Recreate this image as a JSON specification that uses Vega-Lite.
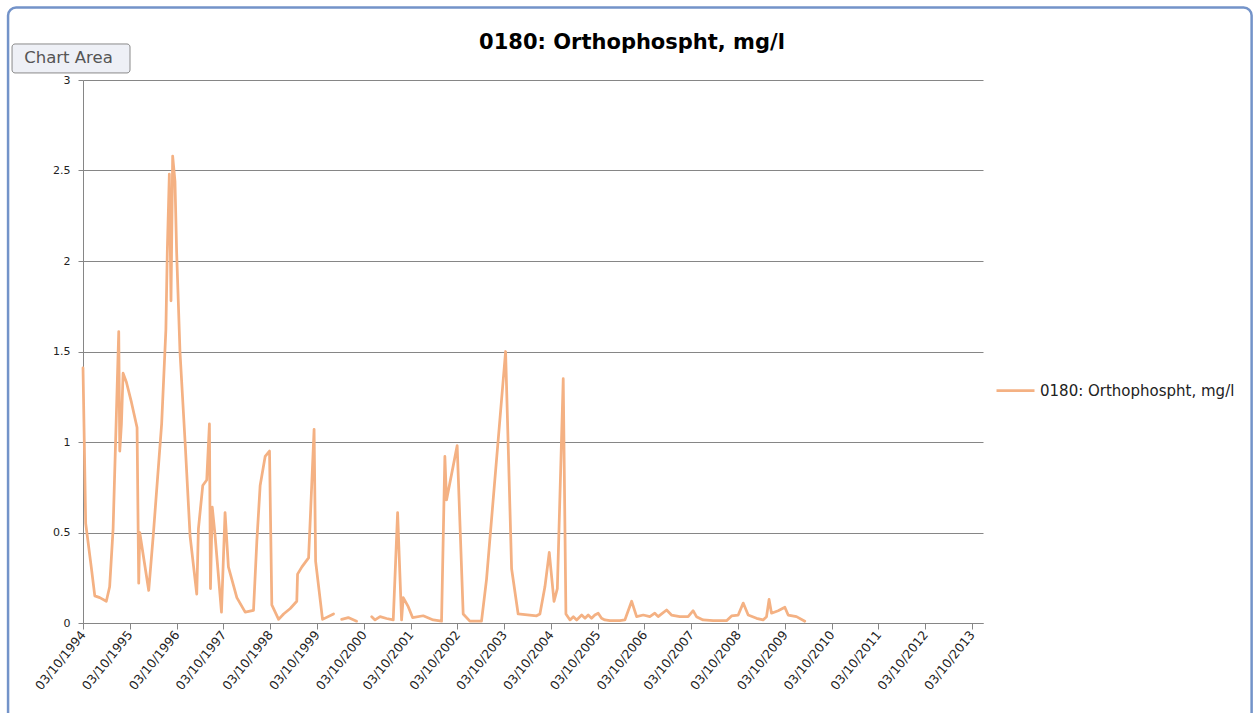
{
  "$schema": "https://vega.github.io/schema/vega-lite/v6.json",
  "width": 900,
  "height": 543,
  "autosize": {"type": "none"},
  "padding": {"left": 83, "top": 80, "right": 274, "bottom": 90},
  "background": "white",
  "title": {
    "text": "0180: Orthophospht, mg/l",
    "font": "DejaVu Sans",
    "fontSize": 21,
    "fontWeight": "bold",
    "color": "#000000",
    "anchor": "middle",
    "frame": "group",
    "dx": 99,
    "dy": 47,
    "offset": 0
  },
  "config": {
    "view": {"stroke": null},
    "axis": {
      "domainColor": "#868686",
      "tickColor": "#868686",
      "gridColor": "#868686",
      "gridWidth": 1,
      "labelColor": "#222222",
      "labelFont": "DejaVu Sans",
      "title": null
    },
    "axisX": {
      "grid": false,
      "tickSize": 6,
      "labelAngle": -51,
      "labelAlign": "right",
      "labelBaseline": "middle",
      "labelFontSize": 12.5,
      "labelPadding": 3,
      "labelOverlap": false,
      "labelFlush": false,
      "labelBound": false,
      "labelExpr": "utcFormat(datum.value, '%d/%m/%Y')"
    },
    "axisY": {
      "grid": true,
      "tickSize": 5,
      "labelFontSize": 11,
      "labelPadding": 8,
      "labelOverlap": false,
      "labelFlush": false
    },
    "legend": {
      "orient": "none",
      "legendX": 912,
      "legendY": 290,
      "symbolType": "stroke",
      "symbolSize": 1444,
      "symbolStrokeWidth": 2.75,
      "labelFont": "DejaVu Sans",
      "labelFontSize": 15,
      "labelColor": "#222222",
      "labelLimit": 400,
      "title": null
    }
  },
  "layer": [
    {
      "data": {
        "values": [
          {"date": "1994-10-03", "value": 1.41, "seg": 1},
          {"date": "1994-10-24", "value": 0.55, "seg": 1},
          {"date": "1994-12-08", "value": 0.30, "seg": 1},
          {"date": "1995-01-03", "value": 0.15, "seg": 1},
          {"date": "1995-02-11", "value": 0.14, "seg": 1},
          {"date": "1995-04-03", "value": 0.12, "seg": 1},
          {"date": "1995-04-29", "value": 0.20, "seg": 1},
          {"date": "1995-05-26", "value": 0.52, "seg": 1},
          {"date": "1995-07-09", "value": 1.61, "seg": 1},
          {"date": "1995-07-17", "value": 0.95, "seg": 1},
          {"date": "1995-07-30", "value": 1.10, "seg": 1},
          {"date": "1995-08-12", "value": 1.38, "seg": 1},
          {"date": "1995-09-07", "value": 1.33, "seg": 1},
          {"date": "1995-10-16", "value": 1.22, "seg": 1},
          {"date": "1995-11-29", "value": 1.08, "seg": 1},
          {"date": "1995-12-12", "value": 0.22, "seg": 1},
          {"date": "1995-12-20", "value": 0.50, "seg": 1},
          {"date": "1996-02-28", "value": 0.18, "seg": 1},
          {"date": "1996-04-03", "value": 0.48, "seg": 1},
          {"date": "1996-06-08", "value": 1.10, "seg": 1},
          {"date": "1996-07-11", "value": 1.62, "seg": 1},
          {"date": "1996-07-22", "value": 2.05, "seg": 1},
          {"date": "1996-08-07", "value": 2.48, "seg": 1},
          {"date": "1996-08-20", "value": 1.78, "seg": 1},
          {"date": "1996-09-02", "value": 2.58, "seg": 1},
          {"date": "1996-09-20", "value": 2.44, "seg": 1},
          {"date": "1996-10-03", "value": 2.05, "seg": 1},
          {"date": "1996-10-29", "value": 1.50, "seg": 1},
          {"date": "1996-12-08", "value": 1.00, "seg": 1},
          {"date": "1997-01-16", "value": 0.48, "seg": 1},
          {"date": "1997-03-09", "value": 0.16, "seg": 1},
          {"date": "1997-03-22", "value": 0.52, "seg": 1},
          {"date": "1997-04-25", "value": 0.76, "seg": 1},
          {"date": "1997-05-26", "value": 0.79, "seg": 1},
          {"date": "1997-06-16", "value": 1.10, "seg": 1},
          {"date": "1997-06-24", "value": 0.19, "seg": 1},
          {"date": "1997-07-08", "value": 0.64, "seg": 1},
          {"date": "1997-07-28", "value": 0.50, "seg": 1},
          {"date": "1997-09-18", "value": 0.06, "seg": 1},
          {"date": "1997-10-16", "value": 0.61, "seg": 1},
          {"date": "1997-11-11", "value": 0.31, "seg": 1},
          {"date": "1998-01-16", "value": 0.14, "seg": 1},
          {"date": "1998-03-22", "value": 0.06, "seg": 1},
          {"date": "1998-05-26", "value": 0.07, "seg": 1},
          {"date": "1998-06-21", "value": 0.45, "seg": 1},
          {"date": "1998-07-17", "value": 0.76, "seg": 1},
          {"date": "1998-08-25", "value": 0.92, "seg": 1},
          {"date": "1998-09-28", "value": 0.95, "seg": 1},
          {"date": "1998-10-16", "value": 0.10, "seg": 1},
          {"date": "1998-12-08", "value": 0.02, "seg": 1},
          {"date": "1999-01-16", "value": 0.05, "seg": 1},
          {"date": "1999-03-09", "value": 0.08, "seg": 1},
          {"date": "1999-04-29", "value": 0.12, "seg": 1},
          {"date": "1999-05-05", "value": 0.27, "seg": 1},
          {"date": "1999-06-08", "value": 0.31, "seg": 1},
          {"date": "1999-07-30", "value": 0.36, "seg": 1},
          {"date": "1999-08-09", "value": 0.52, "seg": 1},
          {"date": "1999-09-11", "value": 1.07, "seg": 1},
          {"date": "1999-09-23", "value": 0.34, "seg": 1},
          {"date": "1999-11-16", "value": 0.02, "seg": 1},
          {"date": "2000-02-10", "value": 0.05, "seg": 1},
          {"date": "2000-04-13", "value": 0.02, "seg": 2},
          {"date": "2000-06-04", "value": 0.03, "seg": 2},
          {"date": "2000-08-08", "value": 0.01, "seg": 2},
          {"date": "2000-12-04", "value": 0.035, "seg": 3},
          {"date": "2000-12-30", "value": 0.017, "seg": 3},
          {"date": "2001-02-07", "value": 0.035, "seg": 3},
          {"date": "2001-03-30", "value": 0.025, "seg": 3},
          {"date": "2001-05-21", "value": 0.017, "seg": 3},
          {"date": "2001-06-24", "value": 0.61, "seg": 3},
          {"date": "2001-07-25", "value": 0.017, "seg": 3},
          {"date": "2001-08-07", "value": 0.14, "seg": 3},
          {"date": "2001-09-15", "value": 0.09, "seg": 3},
          {"date": "2001-10-19", "value": 0.03, "seg": 3},
          {"date": "2002-01-10", "value": 0.04, "seg": 3},
          {"date": "2002-03-29", "value": 0.017, "seg": 3},
          {"date": "2002-06-02", "value": 0.01, "seg": 3},
          {"date": "2002-06-28", "value": 0.92, "seg": 3},
          {"date": "2002-07-11", "value": 0.68, "seg": 3},
          {"date": "2002-10-02", "value": 0.98, "seg": 3},
          {"date": "2002-11-18", "value": 0.05, "seg": 3},
          {"date": "2003-01-09", "value": 0.01, "seg": 3},
          {"date": "2003-04-10", "value": 0.01, "seg": 3},
          {"date": "2003-05-19", "value": 0.24, "seg": 3},
          {"date": "2003-10-15", "value": 1.50, "seg": 3},
          {"date": "2003-12-01", "value": 0.30, "seg": 3},
          {"date": "2004-01-21", "value": 0.05, "seg": 3},
          {"date": "2004-06-13", "value": 0.04, "seg": 3},
          {"date": "2004-07-09", "value": 0.05, "seg": 3},
          {"date": "2004-08-17", "value": 0.20, "seg": 3},
          {"date": "2004-09-20", "value": 0.39, "seg": 3},
          {"date": "2004-10-27", "value": 0.12, "seg": 3},
          {"date": "2004-11-22", "value": 0.19, "seg": 3},
          {"date": "2005-01-07", "value": 1.35, "seg": 3},
          {"date": "2005-01-28", "value": 0.05, "seg": 3},
          {"date": "2005-03-01", "value": 0.017, "seg": 3},
          {"date": "2005-03-27", "value": 0.035, "seg": 3},
          {"date": "2005-04-22", "value": 0.017, "seg": 3},
          {"date": "2005-05-31", "value": 0.044, "seg": 3},
          {"date": "2005-06-26", "value": 0.026, "seg": 3},
          {"date": "2005-07-21", "value": 0.044, "seg": 3},
          {"date": "2005-08-16", "value": 0.026, "seg": 3},
          {"date": "2005-09-11", "value": 0.044, "seg": 3},
          {"date": "2005-10-07", "value": 0.054, "seg": 3},
          {"date": "2005-11-02", "value": 0.026, "seg": 3},
          {"date": "2005-11-28", "value": 0.017, "seg": 3},
          {"date": "2006-01-06", "value": 0.013, "seg": 3},
          {"date": "2006-03-25", "value": 0.013, "seg": 3},
          {"date": "2006-05-03", "value": 0.017, "seg": 3},
          {"date": "2006-06-25", "value": 0.12, "seg": 3},
          {"date": "2006-08-03", "value": 0.035, "seg": 3},
          {"date": "2006-09-24", "value": 0.044, "seg": 3},
          {"date": "2006-11-14", "value": 0.035, "seg": 3},
          {"date": "2006-12-23", "value": 0.054, "seg": 3},
          {"date": "2007-01-18", "value": 0.035, "seg": 3},
          {"date": "2007-02-14", "value": 0.05, "seg": 3},
          {"date": "2007-03-25", "value": 0.072, "seg": 3},
          {"date": "2007-05-02", "value": 0.044, "seg": 3},
          {"date": "2007-07-06", "value": 0.035, "seg": 3},
          {"date": "2007-09-09", "value": 0.035, "seg": 3},
          {"date": "2007-10-18", "value": 0.068, "seg": 3},
          {"date": "2007-11-13", "value": 0.035, "seg": 3},
          {"date": "2008-01-04", "value": 0.017, "seg": 3},
          {"date": "2008-03-23", "value": 0.013, "seg": 3},
          {"date": "2008-07-05", "value": 0.013, "seg": 3},
          {"date": "2008-08-13", "value": 0.039, "seg": 3},
          {"date": "2008-10-04", "value": 0.044, "seg": 3},
          {"date": "2008-11-12", "value": 0.11, "seg": 3},
          {"date": "2008-12-21", "value": 0.044, "seg": 3},
          {"date": "2009-02-24", "value": 0.026, "seg": 3},
          {"date": "2009-04-16", "value": 0.017, "seg": 3},
          {"date": "2009-05-13", "value": 0.035, "seg": 3},
          {"date": "2009-06-02", "value": 0.13, "seg": 3},
          {"date": "2009-06-21", "value": 0.054, "seg": 3},
          {"date": "2009-08-12", "value": 0.068, "seg": 3},
          {"date": "2009-10-03", "value": 0.087, "seg": 3},
          {"date": "2009-10-29", "value": 0.044, "seg": 3},
          {"date": "2010-01-02", "value": 0.035, "seg": 3},
          {"date": "2010-03-08", "value": 0.01, "seg": 3}
        ]
      },
      "transform": [{"calculate": "'0180: Orthophospht, mg/l'", "as": "series"}],
      "mark": {"type": "line", "strokeWidth": 2.75, "strokeJoin": "round", "strokeCap": "round", "clip": false},
      "encoding": {
        "x": {
          "field": "date",
          "type": "temporal",
          "scale": {"type": "utc", "domain": [{"year": 1994, "month": 10, "date": 3, "utc": true}, {"year": 2013, "month": 12, "date": 28, "utc": true}]},
          "axis": {
            "values": [
              {"year": 1994, "month": 10, "date": 3, "utc": true},
              {"year": 1995, "month": 10, "date": 3, "utc": true},
              {"year": 1996, "month": 10, "date": 3, "utc": true},
              {"year": 1997, "month": 10, "date": 3, "utc": true},
              {"year": 1998, "month": 10, "date": 3, "utc": true},
              {"year": 1999, "month": 10, "date": 3, "utc": true},
              {"year": 2000, "month": 10, "date": 3, "utc": true},
              {"year": 2001, "month": 10, "date": 3, "utc": true},
              {"year": 2002, "month": 10, "date": 3, "utc": true},
              {"year": 2003, "month": 10, "date": 3, "utc": true},
              {"year": 2004, "month": 10, "date": 3, "utc": true},
              {"year": 2005, "month": 10, "date": 3, "utc": true},
              {"year": 2006, "month": 10, "date": 3, "utc": true},
              {"year": 2007, "month": 10, "date": 3, "utc": true},
              {"year": 2008, "month": 10, "date": 3, "utc": true},
              {"year": 2009, "month": 10, "date": 3, "utc": true},
              {"year": 2010, "month": 10, "date": 3, "utc": true},
              {"year": 2011, "month": 10, "date": 3, "utc": true},
              {"year": 2012, "month": 10, "date": 3, "utc": true},
              {"year": 2013, "month": 10, "date": 3, "utc": true}
            ]
          }
        },
        "y": {
          "field": "value",
          "type": "quantitative",
          "scale": {"domain": [0, 3], "nice": false, "zero": false},
          "axis": {"values": [0, 0.5, 1, 1.5, 2, 2.5, 3], "format": "~g"}
        },
        "color": {"field": "series", "type": "nominal", "scale": {"range": ["#F4B183"]}},
        "detail": {"field": "seg", "type": "nominal"}
      }
    },
    {
      "data": {"values": [{"label": "Chart Area"}]},
      "mark": {"type": "rect", "fill": "#EEF0F6", "stroke": "#8A8A8A", "strokeWidth": 1, "cornerRadius": 3, "clip": false},
      "encoding": {
        "x": {"datum": {"year": 1993, "month": 3, "date": 28, "utc": true}, "type": "temporal", "scale": {"type": "utc", "domain": [{"year": 1994, "month": 10, "date": 3, "utc": true}, {"year": 2013, "month": 12, "date": 28, "utc": true}]}},
        "x2": {"datum": {"year": 1995, "month": 10, "date": 5, "utc": true}},
        "y": {"datum": 3.199, "type": "quantitative", "scale": {"domain": [0, 3], "nice": false, "zero": false}},
        "y2": {"datum": 3.039}
      }
    },
    {
      "data": {"values": [{"label": "Chart Area"}]},
      "mark": {"type": "text", "font": "DejaVu Sans", "fontSize": 16.5, "color": "#555555", "align": "left", "baseline": "middle", "clip": false},
      "encoding": {
        "x": {"datum": {"year": 1993, "month": 7, "date": 1, "utc": true}, "type": "temporal", "scale": {"type": "utc", "domain": [{"year": 1994, "month": 10, "date": 3, "utc": true}, {"year": 2013, "month": 12, "date": 28, "utc": true}]}},
        "y": {"datum": 3.122, "type": "quantitative", "scale": {"domain": [0, 3], "nice": false, "zero": false}},
        "text": {"field": "label"}
      }
    },
    {
      "data": {"values": [{"label": "frame"}]},
      "mark": {"type": "rect", "filled": false, "stroke": "#7393C9", "strokeWidth": 2.5, "cornerRadius": 8, "clip": false},
      "encoding": {
        "x": {"datum": {"year": 1993, "month": 2, "date": 25, "utc": true}, "type": "temporal", "scale": {"type": "utc", "domain": [{"year": 1994, "month": 10, "date": 3, "utc": true}, {"year": 2013, "month": 12, "date": 28, "utc": true}]}},
        "x2": {"datum": {"year": 2019, "month": 9, "date": 25, "utc": true}},
        "y": {"datum": 3.40, "type": "quantitative", "scale": {"domain": [0, 3], "nice": false, "zero": false}},
        "y2": {"datum": -0.6}
      }
    }
  ]
}
